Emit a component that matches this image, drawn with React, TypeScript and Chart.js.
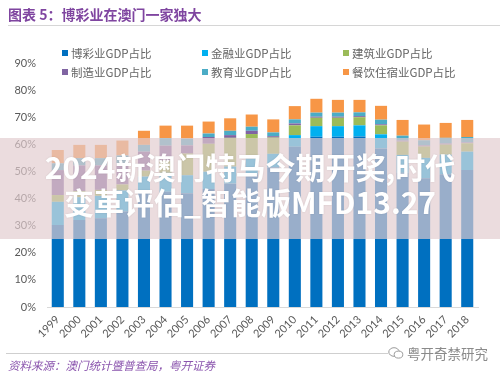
import React, { useEffect, useRef } from "react";
import { Chart, registerables } from "chart.js";

Chart.register(...registerables);

const years = ["1999", "2000", "2001", "2002", "2003", "2004", "2005", "2006", "2007", "2008", "2009", "2010", "2011", "2012", "2013", "2014", "2015", "2016", "2017", "2018"];

const gaming = [30.2, 32.1, 32.7, 35.2, 41.9, 42.5, 42.0, 43.5, 45.5, 49.0, 51.5, 59.1, 62.8, 62.8, 62.9, 58.5, 49.5, 47.5, 49.0, 50.5];
const finance = [8.6, 8.4, 8.3, 7.8, 6.2, 7.0, 6.6, 6.4, 6.3, 5.8, 5.0, 4.3, 3.9, 3.9, 4.1, 5.2, 6.6, 7.5, 7.2, 6.8];
const construction = [2.5, 2.3, 2.2, 2.2, 2.2, 4.4, 8.0, 10.3, 10.6, 9.0, 6.0, 3.6, 3.1, 3.1, 3.0, 3.3, 4.9, 4.2, 3.7, 3.1];
const manufacturing = [9.2, 9.4, 9.0, 7.9, 7.0, 5.6, 3.0, 2.5, 1.0, 1.2, 0.5, 0.7, 0.4, 0.4, 0.4, 0.4, 0.4, 0.4, 0.4, 0.3];
const education = [2.5, 2.7, 2.7, 2.8, 2.5, 2.8, 2.5, 1.3, 1.6, 1.5, 1.4, 1.5, 1.5, 1.5, 1.4, 1.7, 1.8, 1.9, 2.1, 2.0];
const hospitality = [4.9, 4.9, 4.9, 5.5, 5.2, 4.6, 4.8, 4.4, 4.6, 4.5, 4.8, 4.9, 5.1, 4.7, 4.6, 5.1, 5.8, 5.8, 5.5, 6.3];

const seriesNames = ["博彩业GDP占比", "金融业GDP占比", "建筑业GDP占比", "制造业GDP占比", "教育业GDP占比", "餐饮住宿业GDP占比"];
const seriesColors = ["#0070C0", "#00B0F0", "#9BBB59", "#8064A2", "#4BACC6", "#F79646"];
const seriesData = [gaming, finance, construction, manufacturing, education, hospitality];

const yMin = 0;
const yMax = 90;
const yStep = 10;

const titleText = "图表 5：博彩业在澳门一家独大";
const sourceText = "资料来源：澳门统计暨普查局，粤开证券";
const logoText = "粤开奇禁研究";
const watermarkLine1 = "2024新澳门特马今期开奖,时代";
const watermarkLine2 = "变革评估_智能版MFD13.27";

const legendCols = [62, 202, 343];
const legendRows = [49, 68];

export default function App() {
  const canvasRef = useRef<HTMLCanvasElement | null>(null);

  useEffect(() => {
    if (!canvasRef.current) return;
    const chart = new Chart(canvasRef.current, {
      type: "bar",
      data: {
        labels: years,
        datasets: seriesNames.map((name, i) => ({
          label: name,
          data: seriesData[i],
          backgroundColor: seriesColors[i],
          borderWidth: 0,
          barPercentage: 0.56,
          categoryPercentage: 1,
        })),
      },
      options: {
        animation: false,
        responsive: false,
        maintainAspectRatio: false,
        layout: { padding: { top: 63, left: 0, right: 22, bottom: 32 } },
        plugins: {
          legend: { display: false },
          tooltip: { enabled: false },
          title: { display: false },
        },
        scales: {
          x: {
            stacked: true,
            offset: true,
            grid: { display: false, drawTicks: false },
            border: { display: true, color: "#d9d9d9", width: 1 },
            ticks: {
              minRotation: 45,
              maxRotation: 45,
              autoSkip: false,
              padding: 6,
              color: "#595959",
              font: { family: "Lato", size: 11 },
            },
            afterFit: (s: any) => {
              s.height = 40;
            },
          },
          y: {
            stacked: true,
            min: yMin,
            max: yMax,
            grid: { display: false, drawTicks: false },
            border: { display: false },
            ticks: {
              stepSize: yStep,
              padding: 11,
              color: "#595959",
              font: { family: "Lato", size: 11 },
              callback: (v: any) => v + "%",
            },
            afterFit: (s: any) => {
              s.width = 47;
            },
          },
        },
      },
    });
    return () => chart.destroy();
  }, []);

  return (
    <div
      style={{
        position: "absolute",
        left: 0,
        top: 0,
        width: 500,
        height: 379,
        overflow: "hidden",
        background: "#ffffff",
        fontFamily: "'Noto Sans CJK SC', 'Noto Sans', sans-serif",
      }}
    >
      <canvas
        ref={canvasRef}
        width={500}
        height={379}
        style={{ position: "absolute", left: 0, top: 0, width: 500, height: 379, display: "block" }}
      />
      {/* title */}
      <div
        style={{
          position: "absolute",
          left: 8,
          top: 5,
          fontSize: 14,
          lineHeight: "18px",
          fontWeight: 700,
          color: "#7F45A0",
          whiteSpace: "nowrap",
        }}
      >
        {titleText}
      </div>
      <div style={{ position: "absolute", left: 8, top: 25, width: 492, height: 1, background: "#d6d6d6" }} />
      {/* legend */}
      {seriesNames.map((name, i) => {
        const col = i % 3;
        const row = Math.floor(i / 3);
        return (
          <div
            key={name}
            style={{
              position: "absolute",
              left: legendCols[col],
              top: legendRows[row] - 4,
              height: 16,
              display: "flex",
              alignItems: "center",
              whiteSpace: "nowrap",
            }}
          >
            <span style={{ display: "inline-block", width: 6, height: 6, background: seriesColors[i], marginRight: 3 }} />
            <span style={{ fontSize: 11.5, color: "#666666", lineHeight: "16px" }}>{name}</span>
          </div>
        );
      })}
      {/* watermark band */}
      <div
        style={{
          position: "absolute",
          left: 0,
          top: 138,
          width: 500,
          height: 101,
          background: "rgba(226,203,206,0.68)",
        }}
      />
      <div
        style={{
          position: "absolute",
          left: 0,
          top: 149,
          width: 500,
          textAlign: "center",
          fontSize: 30,
          lineHeight: "35px",
          fontWeight: 700,
          color: "#ffffff",
          whiteSpace: "nowrap",
          textShadow: "0 0 2px rgba(0,0,0,0.12)",
        }}
      >
        <div>{watermarkLine1}</div>
        <div>{watermarkLine2}</div>
      </div>
      {/* footer */}
      <div style={{ position: "absolute", left: 6, top: 353, width: 382, height: 1, background: "#cfcfcf" }} />
      <div
        style={{
          position: "absolute",
          left: 8,
          top: 357,
          fontSize: 11.5,
          lineHeight: "16px",
          fontStyle: "italic",
          color: "#8B55AE",
          whiteSpace: "nowrap",
        }}
      >
        {sourceText}
      </div>
      <div
        style={{
          position: "absolute",
          left: 388,
          top: 344,
          height: 18,
          display: "flex",
          alignItems: "center",
          whiteSpace: "nowrap",
          color: "#8a8a8a",
          fontSize: 13.5,
        }}
      >
        <svg width="16" height="14" viewBox="0 0 16 14" style={{ marginRight: 3 }}>
          <ellipse cx="6" cy="6" rx="5.2" ry="4.3" fill="none" stroke="#9a9a9a" strokeWidth="1" />
          <ellipse cx="10.5" cy="8.6" rx="4.3" ry="3.5" fill="#ffffff" stroke="#9a9a9a" strokeWidth="1" />
        </svg>
        <span>{logoText}</span>
      </div>
    </div>
  );
}
